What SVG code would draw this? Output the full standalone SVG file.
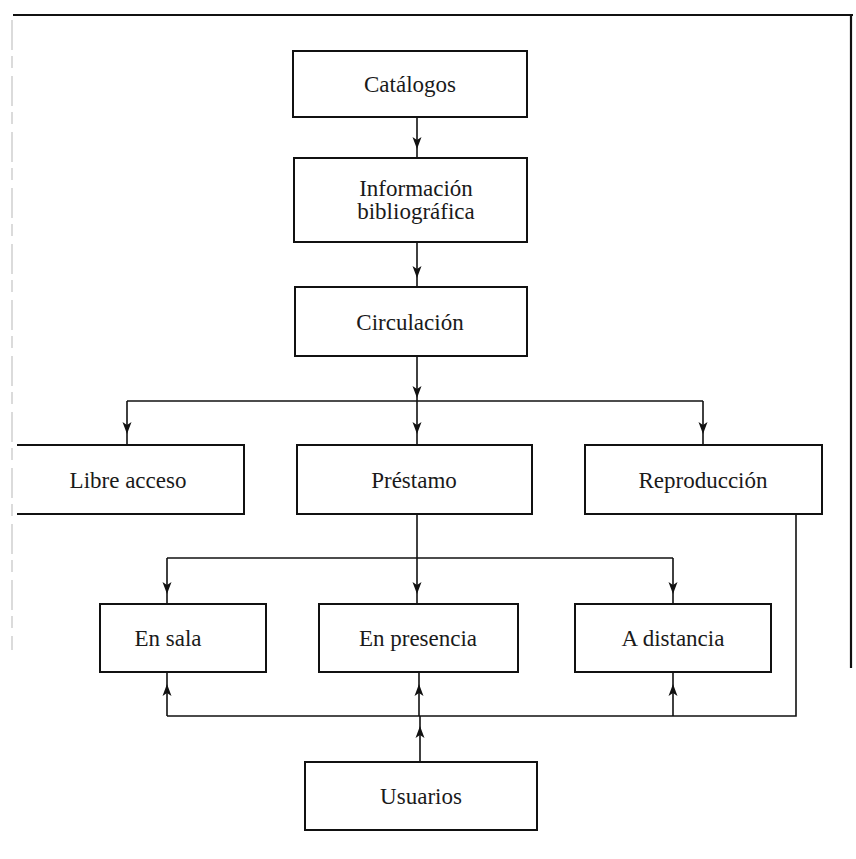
<svg xmlns="http://www.w3.org/2000/svg" width="856" height="859" viewBox="0 0 856 859">
<defs>
<style>
.box{fill:none;stroke:#111;stroke-width:2}
.ln{fill:none;stroke:#111;stroke-width:1.6}
.frame{fill:none;stroke:#111;stroke-width:2.2}
text{font-family:"Liberation Serif","DejaVu Serif",serif;font-size:23px;fill:#1a1a1a;text-anchor:middle}
</style>
<marker id="ah" markerUnits="userSpaceOnUse" markerWidth="14" markerHeight="12" viewBox="-12 -6 14 12" refX="0" refY="0" orient="auto">
<path d="M0,0 L-12,-4.5 L-9,0 L-12,4.5 Z" fill="#111"/>
</marker>
</defs>
<rect width="856" height="859" fill="#fff"/>
<g id="frame">
<path class="frame" d="M13 15 L853 15"/>
<path class="frame" d="M851 15 L851 668"/>
<path d="M12 20 L12 650" stroke="#d0d0d0" stroke-width="1.5" stroke-dasharray="30 6 12 8"/>
</g>
<g id="connectors">
<path class="ln" d="M417 117 L417 149 L417 158" marker-mid="url(#ah)"/>
<path class="ln" d="M417 242 L417 278 L417 287" marker-mid="url(#ah)"/>
<path class="ln" d="M417 356 L417 398 L417 401" marker-mid="url(#ah)"/>
<path class="ln" d="M127 401 L703 401"/>
<path class="ln" d="M127 401 L127 434 L127 445" marker-mid="url(#ah)"/>
<path class="ln" d="M417 401 L417 434 L417 445" marker-mid="url(#ah)"/>
<path class="ln" d="M703 401 L703 434 L703 445" marker-mid="url(#ah)"/>
<path class="ln" d="M417 514 L417 558"/>
<path class="ln" d="M167 558 L673 558"/>
<path class="ln" d="M167 558 L167 594 L167 604" marker-mid="url(#ah)"/>
<path class="ln" d="M417 558 L417 594 L417 604" marker-mid="url(#ah)"/>
<path class="ln" d="M673 558 L673 594 L673 604" marker-mid="url(#ah)"/>
<path class="ln" d="M796 514 L796 716 L167 716"/>
<path class="ln" d="M167 716 L167 684 L167 672" marker-mid="url(#ah)"/>
<path class="ln" d="M419 716 L419 684 L419 672" marker-mid="url(#ah)"/>
<path class="ln" d="M673 716 L673 684 L673 672" marker-mid="url(#ah)"/>
<path class="ln" d="M420 762 L420 726 L420 716" marker-mid="url(#ah)"/>
</g>
<g id="catalogos"><rect class="box" x="293" y="51" width="234" height="66"/><text x="410" y="92">Catálogos</text></g>
<g id="informacion"><rect class="box" x="294" y="158" width="233" height="84"/><text x="416" y="196">Información</text><text x="416" y="219">bibliográfica</text></g>
<g id="circulacion"><rect class="box" x="295" y="287" width="232" height="69"/><text x="410" y="330">Circulación</text></g>
<g id="libre"><path class="box" d="M17 445 L244 445 L244 514 L17 514"/><text x="128" y="488">Libre acceso</text></g>
<g id="prestamo"><rect class="box" x="297" y="445" width="235" height="69"/><text x="414" y="488">Préstamo</text></g>
<g id="reproduccion"><rect class="box" x="585" y="445" width="237" height="69"/><text x="703" y="488">Reproducción</text></g>
<g id="ensala"><rect class="box" x="100" y="604" width="166" height="68"/><text x="168" y="646">En sala</text></g>
<g id="enpresencia"><rect class="box" x="319" y="604" width="199" height="68"/><text x="418" y="646">En presencia</text></g>
<g id="adistancia"><rect class="box" x="575" y="604" width="196" height="68"/><text x="673" y="646">A distancia</text></g>
<g id="usuarios"><rect class="box" x="305" y="762" width="232" height="68"/><text x="421" y="804">Usuarios</text></g>
</svg>
